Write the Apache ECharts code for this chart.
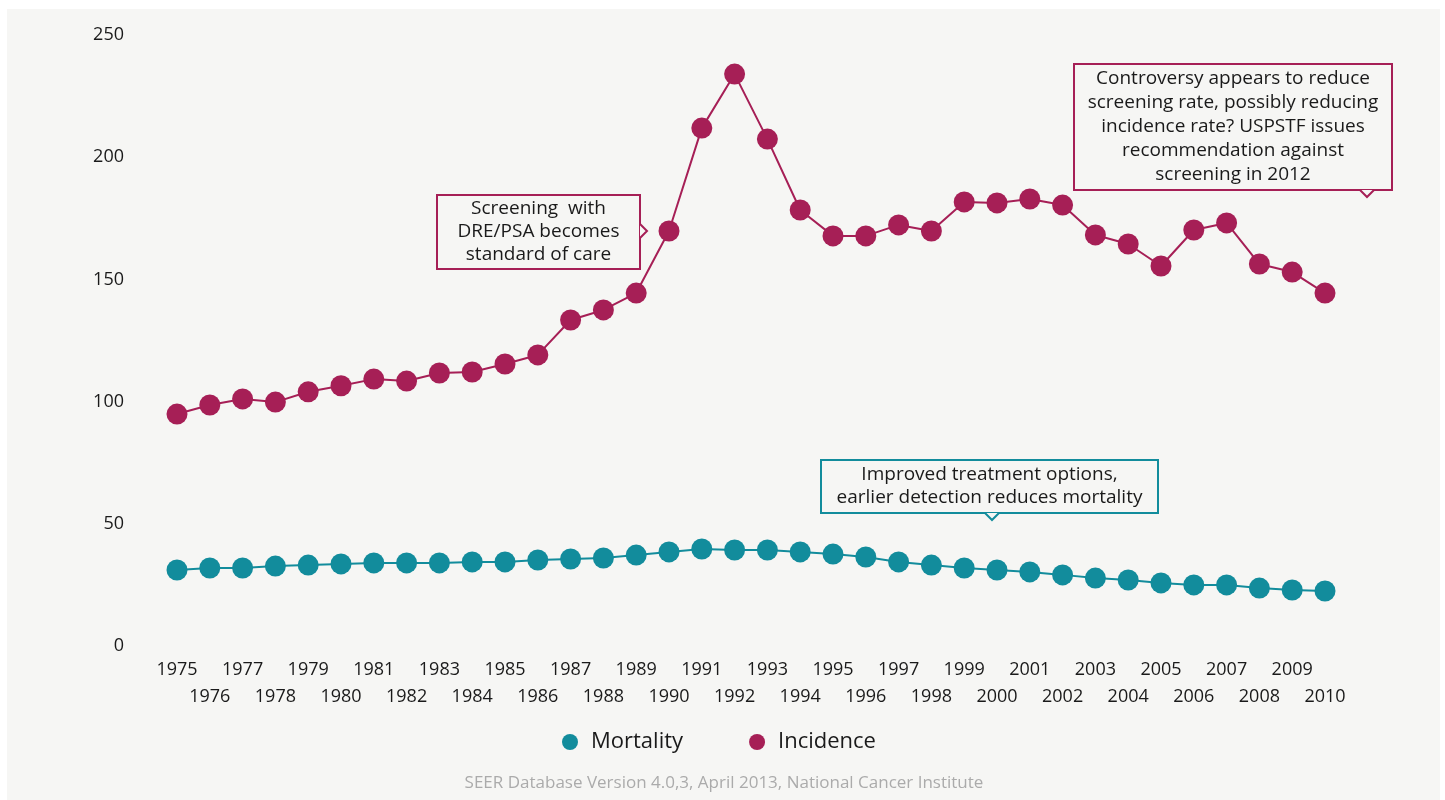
<!DOCTYPE html>
<html>
<head>
<meta charset="utf-8">
<script src="https://cdn.jsdelivr.net/npm/echarts@6/dist/echarts.min.js"></script>
<style>
  html, body { margin: 0; padding: 0; background: #ffffff; }
  #chart { width: 1445px; height: 800px; }
</style>
</head>
<body>
<div id="chart"></div>
<script>
// data (rate per 100,000)
const years = [
  "1975", "1976", "1977", "1978", "1979", "1980", "1981", "1982", "1983",
  "1984", "1985", "1986", "1987", "1988", "1989", "1990", "1991", "1992",
  "1993", "1994", "1995", "1996", "1997", "1998", "1999", "2000", "2001",
  "2002", "2003", "2004", "2005", "2006", "2007", "2008", "2009", "2010",
];
const mortality = [
  31.1, 31.9, 31.9, 32.7, 33.1, 33.6, 34.0, 34.0, 34.0, 34.4, 34.4, 35.2,
  35.6, 36.0, 37.2, 38.5, 39.7, 39.3, 39.3, 38.5, 37.6, 36.4, 34.4, 33.1,
  31.9, 31.1, 30.3, 29.1, 27.8, 27.0, 25.8, 25.0, 25.0, 23.7, 22.9, 22.5,
];
const incidence = [
  94.9, 98.6, 101.1, 99.8, 104.0, 106.5, 109.2, 108.4, 111.7, 112.1, 115.4,
  119.1, 133.4, 137.5, 144.4, 169.8, 211.9, 234.0, 207.4, 178.4, 167.8,
  167.8, 172.3, 169.8, 181.7, 181.3, 182.9, 180.4, 168.2, 164.5, 155.5,
  170.2, 173.1, 156.3, 153.0, 144.4,
];
const yTicks = { min: 0, max: 250, interval: 50 };

const teal = "#128c9c";
const plum = "#a61f56";
const bg = "#f6f6f4";
const font = "Open Sans";

// callout box: rect with text + little arrow
function callout(x, y, w, h, color, text, lh, arrow) {
  const els = [
    {
      type: "rect",
      shape: { x: x, y: y, width: w, height: h },
      style: { fill: bg, stroke: color, lineWidth: 2 },
    },
    {
      type: "text",
      x: x + w / 2,
      y: y + h / 2,
      style: {
        text: text,
        fill: "#1a1a1a",
        font: "19px '" + font + "'",
        align: "center",
        verticalAlign: "middle",
        lineHeight: lh,
      },
    },
  ];
  let pts;
  if (arrow.side === "right") {
    pts = [[x + w, arrow.pos - 7], [x + w + 7, arrow.pos], [x + w, arrow.pos + 7]];
  } else {
    pts = [[arrow.pos - 7, y + h], [arrow.pos, y + h + 7], [arrow.pos + 7, y + h]];
  }
  els.push({ type: "polygon", shape: { points: pts }, style: { fill: bg } });
  els.push({
    type: "polyline",
    shape: { points: pts },
    style: { stroke: color, lineWidth: 2, fill: null },
  });
  return { type: "group", children: els };
}

const chart = echarts.init(document.getElementById("chart"));

const option = {
  backgroundColor: "#ffffff",
  animation: false,
  textStyle: { fontFamily: font },
  grid: { left: 177, right: 120, top: 35, bottom: 154 },
  legend: {
    bottom: 42,
    left: 557,
    itemGap: 66,
    itemWidth: 16,
    itemHeight: 16,
    icon: "circle",
    textStyle: { fontSize: 22, color: "#1a1a1a", fontFamily: font, padding: [0, 0, 0, 8] },
    data: ["Mortality", "Incidence"],
  },
  xAxis: {
    type: "category",
    boundaryGap: false,
    data: years,
    axisLine: { show: false },
    axisTick: { show: false },
    axisLabel: {
      interval: 0,
      margin: 10,
      fontSize: 18,
      color: "#1a1a1a",
      lineHeight: 27,
      formatter: function (v, i) {
        return i % 2 === 0 ? v : "\n" + v;
      },
    },
  },
  yAxis: {
    type: "value",
    min: yTicks.min,
    max: yTicks.max,
    interval: yTicks.interval,
    splitLine: { show: false },
    axisLine: { show: false },
    axisTick: { show: false },
    axisLabel: { fontSize: 18, color: "#1a1a1a", margin: 53 },
  },
  series: [
    {
      name: "Mortality",
      type: "line",
      data: mortality,
      symbol: "circle",
      symbolSize: 21,
      color: teal,
      lineStyle: { width: 2, color: teal },
      itemStyle: { color: teal },
    },
    {
      name: "Incidence",
      type: "line",
      data: incidence,
      symbol: "circle",
      symbolSize: 21,
      color: plum,
      lineStyle: { width: 2, color: plum },
      itemStyle: { color: plum },
    },
  ],
  graphic: [
    {
      type: "rect",
      z: -100,
      silent: true,
      shape: { x: 7, y: 9, width: 1433, height: 791 },
      style: { fill: bg },
    },
    callout(437, 195, 203, 74, plum,
      "Screening  with\nDRE/PSA becomes\nstandard of care", 23,
      { side: "right", pos: 231 }),
    callout(1074, 64, 318, 126, plum,
      "Controversy appears to reduce\nscreening rate, possibly reducing\nincidence rate? USPSTF issues\nrecommendation against\nscreening in 2012", 24,
      { side: "bottom", pos: 1367 }),
    callout(821, 460, 337, 53, teal,
      "Improved treatment options,\nearlier detection reduces mortality", 23,
      { side: "bottom", pos: 992 }),
    {
      type: "text",
      x: 724,
      y: 783,
      style: {
        text: "SEER Database Version 4.0,3, April 2013, National Cancer Institute",
        fill: "#ababab",
        font: "17px '" + font + "'",
        align: "center",
        verticalAlign: "middle",
      },
    },
  ],
};

chart.setOption(option);

window.addEventListener("resize", () => {
  chart.resize();
});
</script>
</body>
</html>
